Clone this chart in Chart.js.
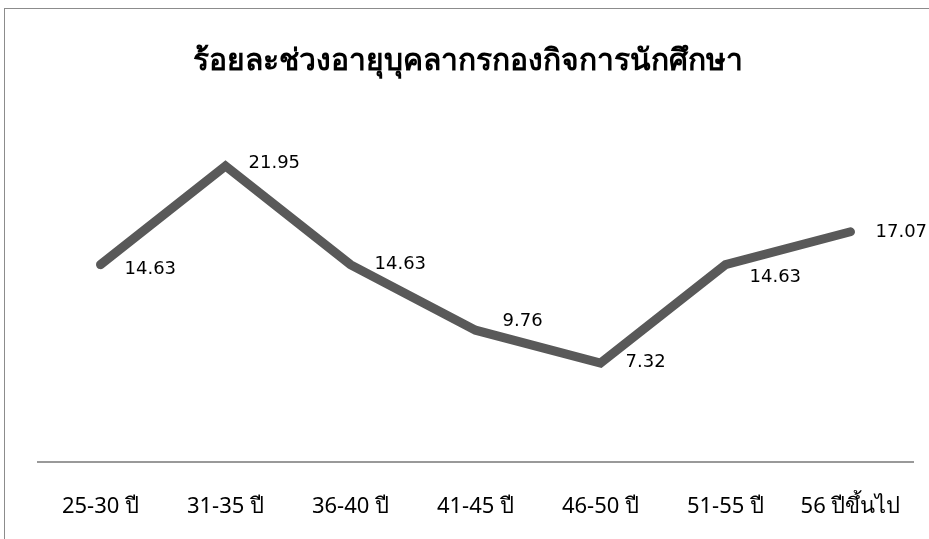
<!DOCTYPE html>
<html>
<head>
<meta charset="utf-8">
<script src="https://cdn.jsdelivr.net/npm/chart.js@4.4.1/dist/chart.umd.min.js"></script>
<style>
  html, body { margin: 0; padding: 0; background: #fff; }
  #wrap { width: 929px; height: 539px; position: relative; }
</style>
</head>
<body>
<div id="wrap"><canvas id="ageChart" width="929" height="539"></canvas></div>
<script>
// ข้อมูล
const categories = ['25-30 ปี', '31-35 ปี', '36-40 ปี', '41-45 ปี', '46-50 ปี', '51-55 ปี', '56 ปีขึ้นไป'];
const percentValues = [14.63, 21.95, 14.63, 9.76, 7.32, 14.63, 17.07];
const chartTitle = 'ร้อยละช่วงอายุบุคลากรกองกิจการนักศึกษา';

// ตำแหน่งป้ายตัวเลข (dx, dy จากจุด)
const labelShift = [
  [24, 5], [23, -3], [24, 0], [27, -9], [25, -1], [24, 13], [25, 1]
];

const frameAndLabels = {
  id: 'frameAndLabels',
  beforeDraw(chart) {
    const c = chart.ctx;
    c.save();
    c.strokeStyle = '#8c8c8c';
    c.lineWidth = 1;
    c.strokeRect(4.5, 8.5, 940, 560);
    c.restore();
  },
  afterDatasetsDraw(chart) {
    const c = chart.ctx;
    const meta = chart.getDatasetMeta(0);
    c.save();
    c.font = '18px "DejaVu Sans", sans-serif';
    c.fillStyle = '#000';
    c.textAlign = 'left';
    c.textBaseline = 'middle';
    meta.data.forEach((pt, i) => {
      const [dx, dy] = labelShift[i];
      c.fillText(percentValues[i].toFixed(2), pt.x + dx, pt.y + dy);
    });
    c.restore();
  }
};

new Chart(document.getElementById('ageChart'), {
  type: 'line',
  data: {
    labels: categories,
    datasets: [{
      data: percentValues,
      borderColor: '#595959',
      borderWidth: 9,
      borderCapStyle: 'round',
      borderJoinStyle: 'miter',
      pointRadius: 0,
      tension: 0,
      fill: false
    }]
  },
  options: {
    responsive: false,
    animation: false,
    layout: { padding: { left: 20, right: 14, top: 0, bottom: -13 } },
    plugins: {
      legend: { display: false },
      tooltip: { enabled: false },
      title: {
        display: true,
        text: chartTitle,
        color: '#000',
        font: { size: 30, weight: 'bold', family: '"Noto Sans", sans-serif' },
        padding: { top: 43, bottom: 46 }
      }
    },
    scales: {
      x: {
        offset: true,
        grid: { display: false, drawTicks: false },
        border: { display: true, color: '#999999', width: 2 },
        ticks: { color: '#000', padding: 32, font: { size: 22, family: '"Noto Sans", sans-serif' } },
        afterFit(scale) {
          scale.paddingLeft = 38;
          scale.paddingRight = 16;
        }
      },
      y: {
        display: false,
        min: 0,
        max: 25
      }
    }
  },
  plugins: [frameAndLabels]
});
</script>
</body>
</html>
